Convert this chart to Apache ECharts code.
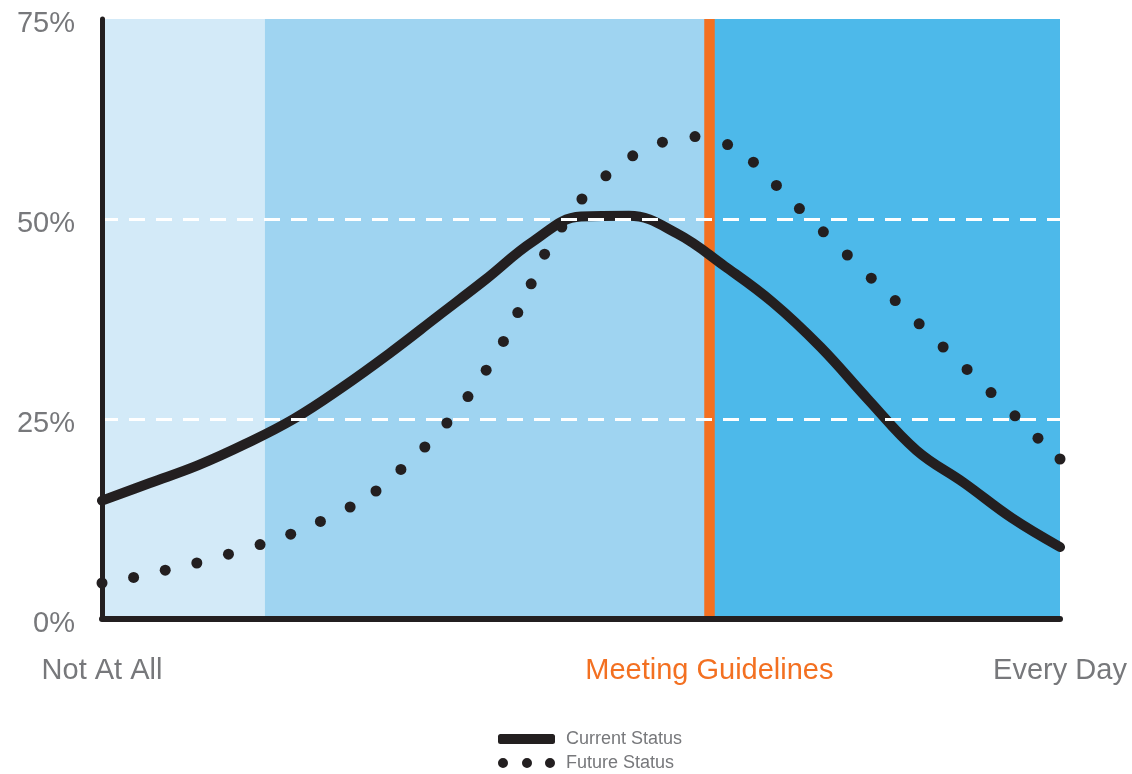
<!DOCTYPE html>
<html>
<head>
<meta charset="utf-8">
<script src="https://cdn.jsdelivr.net/npm/echarts@6/dist/echarts.min.js"></script>
<style>
  html, body { margin: 0; padding: 0; background: #ffffff; }
  #chart { width: 1132px; height: 774px; }
</style>
</head>
<body>
<div id="chart"></div>
<script>
// Frequency scale runs 0 (Not At All) .. 100 (Every Day); values are percent of people.
const xTicks = [0, 63.4, 100];
const xTickLabels = ['Not At All', 'Meeting Guidelines', 'Every Day'];
const yTicks = [0, 25, 50, 75];

// Background zones along the frequency scale
const zoneEdges = [0, 17.0, 63.4, 100];
const zoneColors = ['#d3eaf8', '#9fd4f1', '#4db9ea'];
const guidelineX = 63.4;

// Current Status curve [frequency, percent]
const currentX = [0, 5, 10, 15, 20, 25, 30, 35, 40, 45, 50, 55, 60, 65, 70, 75, 80, 85, 90, 95, 100];
const currentY = [14.8, 17.0, 19.2, 21.9, 25.0, 28.9, 33.2, 37.8, 42.4, 47.2, 50.3, 50.4, 48.2, 44.1, 39.6, 34.0, 27.4, 21.1, 17.0, 12.6, 9.0];

// Future Status points [frequency, percent]
const futureX = [0, 3.3, 6.6, 9.9, 13.2, 16.5, 19.7, 22.8, 25.9, 28.6, 31.2, 33.7, 36.0, 38.2, 40.1, 41.9, 43.4, 44.8, 46.2, 48.0, 50.1, 52.6, 55.4, 58.5, 61.9, 65.3, 68.0, 70.4, 72.8, 75.3, 77.8, 80.3, 82.8, 85.3, 87.8, 90.3, 92.8, 95.3, 97.7, 100];
const futureY = [4.5, 5.2, 6.1, 7.0, 8.1, 9.3, 10.6, 12.2, 14.0, 16.0, 18.7, 21.5, 24.5, 27.8, 31.1, 34.7, 38.3, 41.9, 45.6, 49.0, 52.5, 55.4, 57.9, 59.6, 60.3, 59.3, 57.1, 54.2, 51.3, 48.4, 45.5, 42.6, 39.8, 36.9, 34.0, 31.2, 28.3, 25.4, 22.6, 20.0];

const ink = '#231f20';
const grey = '#77787b';
const orange = '#f37021';
const labelFont = "'Liberation Sans', Arial, sans-serif";

const currentData = currentX.map((x, i) => [x, currentY[i]]);
const futureData = futureX.map((x, i) => [x, futureY[i]]);

const zoneAreas = zoneColors.map((c, i) => [
  { xAxis: zoneEdges[i], itemStyle: { color: c } },
  { xAxis: zoneEdges[i + 1] }
]);

const dotsIcon = 'path://M0 5A5 5 0 1 1 10 5A5 5 0 1 1 0 5ZM24 5A5 5 0 1 1 34 5A5 5 0 1 1 24 5ZM47 5A5 5 0 1 1 57 5A5 5 0 1 1 47 5Z';

const chart = echarts.init(document.getElementById('chart'), null, { renderer: 'canvas' });
chart.setOption({
  animation: false,
  backgroundColor: '#ffffff',
  grid: { left: 102, right: 72, top: 19, bottom: 155, containLabel: false, outerBoundsMode: 'none' },
  xAxis: {
    type: 'value',
    min: 0,
    max: 100,
    z: 3,
    axisLine: { show: true, lineStyle: { color: ink, width: 6 } },
    axisTick: { show: false },
    splitLine: { show: false },
    axisLabel: {
      customValues: xTicks,
      margin: 37,
      fontFamily: labelFont,
      fontSize: 29,
      color: grey,
      formatter: function (v) {
        const i = xTicks.indexOf(v);
        if (i < 0) return '';
        return i === 1 ? '{g|' + xTickLabels[i] + '}' : xTickLabels[i];
      },
      rich: { g: { color: orange, fontFamily: labelFont, fontSize: 29 } }
    }
  },
  yAxis: {
    type: 'value',
    min: 0,
    max: 75,
    interval: 25,
    z: 3,
    axisLine: { show: true, lineStyle: { color: ink, width: 5 } },
    axisTick: { show: false },
    axisLabel: {
      margin: 27,
      color: grey,
      formatter: function (v) { return '{p|' + v + '%}'; },
      rich: { p: { fontFamily: labelFont, fontSize: 29, color: grey, padding: [9, 0, 0, 0] } }
    },
    splitLine: {
      show: true,
      lineStyle: {
        color: ['rgba(255,255,255,0)', '#ffffff', '#ffffff', 'rgba(255,255,255,0)'],
        width: 3,
        type: [16, 11]
      }
    }
  },
  legend: {
    left: 498,
    top: 729,
    padding: 0,
    orient: 'vertical',
    itemWidth: 57,
    itemHeight: 10,
    itemGap: 4,
    selectedMode: false,
    textStyle: {
      fontFamily: labelFont,
      fontSize: 18,
      lineHeight: 20,
      color: grey,
      padding: [0, 0, 0, 6]
    },
    data: [
      { name: 'Current Status', icon: 'roundRect' },
      { name: 'Future Status', icon: dotsIcon }
    ]
  },
  series: [
    {
      name: 'zones',
      type: 'line',
      data: [],
      silent: true,
      markArea: { silent: true, z: 0.5, data: zoneAreas },
      markLine: {
        silent: true,
        z: 1,
        symbol: 'none',
        label: { show: false },
        lineStyle: { color: orange, width: 10.5, type: 'solid' },
        data: [{ xAxis: guidelineX }]
      }
    },
    {
      name: 'Current Status',
      type: 'line',
      data: currentData,
      smooth: 0.4,
      showSymbol: false,
      z: 2,
      color: ink,
      lineStyle: { color: ink, width: 10, cap: 'round' }
    },
    {
      name: 'Future Status',
      type: 'scatter',
      data: futureData,
      symbol: 'circle',
      symbolSize: 11,
      z: 2,
      clip: true,
      itemStyle: { color: ink, opacity: 1 }
    }
  ]
});
</script>
</body>
</html>
